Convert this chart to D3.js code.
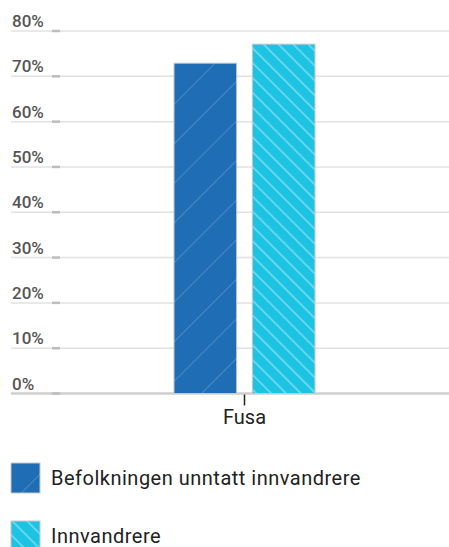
<!DOCTYPE html>
<html>
<head>
<meta charset="utf-8">
<script src="https://cdn.jsdelivr.net/npm/d3@7"></script>
<style>
  body { margin: 0; background: #fff; font-family: Roboto, "Open Sans", sans-serif; }
</style>
</head>
<body>
<div id="chart"></div>
<script>
const categories = ['Fusa'];
const seriesNames = ['Befolkningen unntatt innvandrere', 'Innvandrere'];
const befolkning = [72.9];
const innvandrere = [77.1];
const yTicks = [0, 10, 20, 30, 40, 50, 60, 70, 80];

const W = 449, H = 547;
const svg = d3.select('#chart').append('svg')
  .attr('width', W).attr('height', H);

const defs = svg.append('defs');
// Hatch patterns for the two series
const p1 = defs.append('pattern')
  .attr('id', 'hatch1').attr('patternUnits', 'userSpaceOnUse')
  .attr('width', 28).attr('height', 28)
  .attr('patternTransform', 'rotate(45)');
p1.append('rect').attr('width', 28).attr('height', 28).attr('fill', '#1f6db5');
p1.append('line').attr('x1', 0).attr('y1', 0).attr('x2', 0).attr('y2', 28)
  .attr('stroke', '#5b93c9').attr('stroke-width', 1.5);

const p2 = defs.append('pattern')
  .attr('id', 'hatch2').attr('patternUnits', 'userSpaceOnUse')
  .attr('width', 10.5).attr('height', 10.5)
  .attr('patternTransform', 'rotate(-45)');
p2.append('rect').attr('width', 10.5).attr('height', 10.5).attr('fill', '#1cc3e3');
p2.append('line').attr('x1', 0).attr('y1', 0).attr('x2', 0).attr('y2', 10.5)
  .attr('stroke', '#7ddcef').attr('stroke-width', 3);

const y = d3.scaleLinear().domain([0, 80]).range([393.5, 31]);
const x0 = d3.scaleBand().domain(categories).range([40, 449]);
const x1 = d3.scaleBand().domain(seriesNames)
  .range([x0.bandwidth() / 2 - 70.5, x0.bandwidth() / 2 + 70.5]).paddingInner(0.2);

// Grid lines
svg.append('g')
  .selectAll('line').data(yTicks).enter().append('line')
  .attr('x1', 11).attr('x2', W)
  .attr('y1', d => y(d)).attr('y2', d => y(d))
  .attr('stroke', d => d === 0 ? '#cfcfcf' : '#e2e2e2')
  .attr('stroke-width', d => d === 0 ? 2.5 : 1.5);

// small tick marks on grid lines
svg.append('g')
  .selectAll('line').data(yTicks).enter().append('line')
  .attr('x1', 52).attr('x2', 60)
  .attr('y1', d => y(d)).attr('y2', d => y(d))
  .attr('stroke', '#bdbdbd').attr('stroke-width', 2.5);

// Y labels
svg.append('g')
  .selectAll('text').data(yTicks).enter().append('text')
  .attr('x', 12).attr('y', d => y(d) - 4)
  .attr('fill', '#555')
  .style('font-size', '17px')
  .style('font-weight', '500')
  .text(d => d + '%');

// Bars
const values = [befolkning, innvandrere];
const fills = ['url(#hatch1)', 'url(#hatch2)'];
const groups = svg.append('g').selectAll('g').data(categories).enter().append('g')
  .attr('transform', c => `translate(${x0(c)},0)`);

groups.selectAll('rect')
  .data((c, i) => seriesNames.map((s, k) => ({ s, v: values[k][i], k })))
  .enter().append('rect')
  .attr('x', d => x1(d.s))
  .attr('width', x1.bandwidth())
  .attr('y', d => y(d.v))
  .attr('height', d => y(0) - y(d.v))
  .attr('fill', d => fills[d.k])
  .attr('stroke', '#c8c8c8')
  .attr('stroke-width', 1);

// X axis
const xAxis = svg.append('g')
  .attr('transform', `translate(0,${y(0) + 1})`)
  .call(d3.axisBottom(x0).tickSize(11).tickPadding(4));
xAxis.select('.domain').remove();
xAxis.selectAll('line').attr('stroke', '#222').attr('stroke-width', 1.5);
xAxis.selectAll('text')
  .attr('fill', '#222')
  .style('font-family', 'Roboto, sans-serif')
  .style('font-size', '20px');

// Legend
const legend = svg.append('g').selectAll('g').data(seriesNames).enter().append('g')
  .attr('transform', (d, i) => `translate(11,${463 + i * 58})`);
legend.append('rect')
  .attr('width', 29).attr('height', 30)
  .attr('fill', (d, i) => fills[i])
  .attr('stroke', '#c8c8c8').attr('stroke-width', 1);
legend.append('text')
  .attr('x', 40).attr('y', 15).attr('dy', '0.35em')
  .attr('fill', '#222')
  .style('font-size', '20px')
  .style('letter-spacing', '0.5px')
  .text(d => d);
</script>
</body>
</html>
